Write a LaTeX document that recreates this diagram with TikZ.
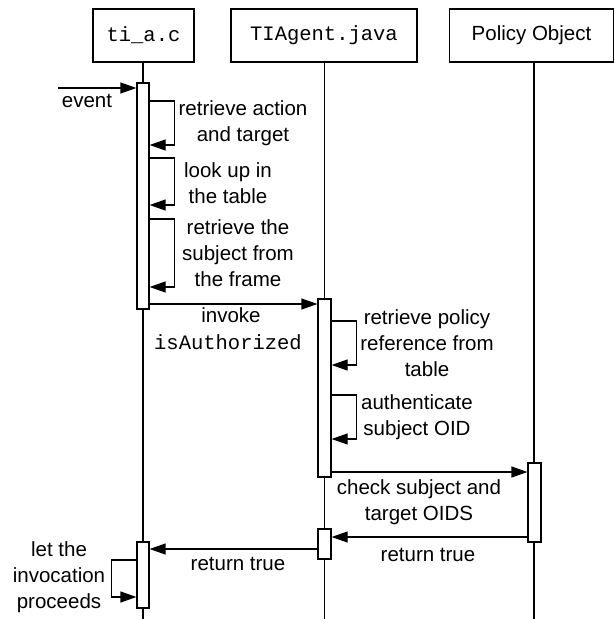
\documentclass[tikz,border=0pt]{standalone}
\usepackage{fontspec}
\setmainfont{Liberation Sans}
\setmonofont{Liberation Mono}
\usetikzlibrary{arrows.meta}
\begin{document}
\begin{tikzpicture}[x=1pt,y=-1pt,
  every node/.style={font=\fontsize{20.5}{26}\selectfont},
  obj/.style={draw, line width=1.2pt, minimum height=53pt, inner sep=0pt},
  act/.style={draw, fill=white, line width=1.2pt, minimum width=12pt, inner sep=0pt},
  msg/.style={line width=1.2pt, -{Triangle[length=16pt,width=11pt]}},
  life/.style={line width=1.1pt},
  lbl/.style={align=center, inner sep=0pt}]
\useasboundingbox (0,0) rectangle (615,619);
% objects
\node[obj, minimum width=101pt] (ta) at (143.5,35.5) {\ttfamily ti\_a.c};
\node[obj, minimum width=186pt] (ag) at (324,35.5) {\ttfamily TIAgent.java};
\node[obj, minimum width=164pt] (po) at (531.5,35.5) {Policy Object};
% lifelines
\coordinate (taend) at (143,619);
\coordinate (agend) at (324.5,619);
\coordinate (poend) at (534,619);
\draw[life] (ta.south -| taend) -- (taend);
\draw[life] (ag.south -| agend) -- (agend);
\draw[life] (po.south -| poend) -- (poend);
% activations
\node[act, minimum height=226pt] (a1) at (143,196) {};
\node[act, minimum width=13pt, minimum height=178pt] (t1) at (324.5,388) {};
\node[act, minimum width=13pt, minimum height=79pt] (p1) at (534.5,502.5) {};
\node[act, minimum width=13pt, minimum height=30pt] (t2) at (324.5,544) {};
\node[act, minimum height=66pt] (a2) at (143,575) {};
% event
\coordinate (ev) at (58,88);
\draw[msg] (ev) -- (ev -| a1.west);
\node[lbl] (evl) at (87,101) {event};
% self calls on ti_a.c
\coordinate (s1a) at (149,101); \coordinate (s1b) at (149,145);
\draw[msg] (s1a -| a1.east) -- ++(25,0) |- (s1b -| a1.east);
\node[lbl] (s1l) at (243,123) {retrieve action\\and target};
\coordinate (s2a) at (149,158); \coordinate (s2b) at (149,205);
\draw[msg] (s2a -| a1.east) -- ++(25,0) |- (s2b -| a1.east);
\node[lbl] (s2l) at (228,183) {look up in\\the table};
\coordinate (s3a) at (149,219); \coordinate (s3b) at (149,287);
\draw[msg] (s3a -| a1.east) -- ++(25,0) |- (s3b -| a1.east);
\node[lbl] (s3l) at (238,253) {retrieve the\\subject from\\the frame};
% invoke
\coordinate (inv) at (149,304);
\draw[msg] (inv -| a1.east) -- (inv -| t1.west);
\node[lbl] (invl) at (231,315) {invoke};
\node[lbl] (isa) at (228,342) {\ttfamily isAuthorized};
% self calls on TIAgent
\coordinate (s4a) at (331,321); \coordinate (s4b) at (331,365);
\draw[msg] (s4a -| t1.east) -- ++(25,0) |- (s4b -| t1.east);
\node[lbl] (s4l) at (427,343) {retrieve policy\\reference from\\table};
\coordinate (s5a) at (331,395); \coordinate (s5b) at (331,439);
\draw[msg] (s5a -| t1.east) -- ++(25,0) |- (s5b -| t1.east);
\node[lbl] (s5l) at (417,417) {authenticate\\subject OID};
% check
\coordinate (chk) at (331,472);
\draw[msg] (chk -| t1.east) -- (chk -| p1.west);
\node[lbl] (chkl) at (419,502) {check subject and\\target OIDS};
% returns
\coordinate (r1) at (528,537);
\draw[msg] (r1 -| p1.west) -- (r1 -| t2.east);
\node[lbl] (r1l) at (428,555) {return true};
\coordinate (r2) at (318,549);
\draw[msg] (r2 -| t2.west) -- (r2 -| a2.east);
\node[lbl] (r2l) at (238,564) {return true};
% self call on left
\coordinate (s6a) at (137,560); \coordinate (s6b) at (137,597);
\draw[msg] (s6a -| a2.west) -- ++(-25,0) |- (s6b -| a2.west);
\node[lbl] (s6l) at (59,577) {let the\\invocation\\proceeds};
\end{tikzpicture}
\end{document}
